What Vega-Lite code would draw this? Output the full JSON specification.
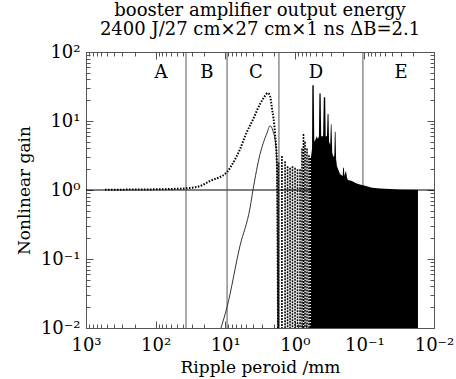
{
  "$schema": "https://vega.github.io/schema/vega-lite/v6.json",
  "width": 348,
  "height": 276,
  "autosize": {"type": "none"},
  "padding": {"left": 86, "top": 52, "right": 22, "bottom": 51},
  "background": "white",
  "config": {"view": {"stroke": null}, "font": "DejaVu Serif"},
  "title": {
    "text": ["booster amplifier output energy", "2400 J/27 cm×27 cm×1 ns ΔB=2.1"],
    "font": "DejaVu Serif",
    "fontSize": 18,
    "fontWeight": "normal",
    "color": "black",
    "anchor": "middle",
    "offset": 4,
    "lineHeight": 19
  },
  "layer": [
    {
      "data": {"values": [{"x": 1000, "y": 1}, {"x": 0.01, "y": 1}]},
      "mark": {"type": "line", "color": "black", "strokeWidth": 1, "clip": true},
      "encoding": {
        "x": {
          "field": "x", "type": "quantitative",
          "scale": {"type": "log", "domain": [0.01, 1000], "reverse": true, "nice": false},
          "axis": {
            "orient": "bottom",
            "values": [0.01,0.02,0.03,0.04,0.05,0.06,0.07,0.08,0.09,0.1,0.2,0.3,0.4,0.5,0.6,0.7,0.8,0.9,1,2,3,4,5,6,7,8,9,10,20,30,40,50,60,70,80,90,100,200,300,400,500,600,700,800,900,1000],
            "labelExpr": "datum.value==1000?'10³':datum.value==100?'10²':datum.value==10?'10¹':datum.value==1?'10⁰':datum.value==0.1?'10⁻¹':datum.value==0.01?'10⁻²':''",
            "labelFont": "DejaVu Serif", "labelFontSize": 18, "labelColor": "black",
            "labelPadding": 15, "labelOverlap": false, "labelFlush": false, "labelBound": false,
            "tickSize": {"condition": {"test": "datum.value==0.01||datum.value==0.1||datum.value==1||datum.value==10||datum.value==100||datum.value==1000", "value": -7}, "value": -4},
            "tickColor": "#555", "tickWidth": 1,
            "domainColor": "#555", "domainWidth": 1,
            "grid": false,
            "title": "Ripple peroid /mm",
            "titleFont": "DejaVu Serif", "titleFontSize": 17, "titleFontWeight": "normal", "titleColor": "black",
            "titlePadding": 2
          }
        },
        "y": {
          "field": "y", "type": "quantitative",
          "scale": {"type": "log", "domain": [0.01, 100], "nice": false},
          "axis": {
            "orient": "left",
            "values": [0.01,0.02,0.03,0.04,0.05,0.06,0.07,0.08,0.09,0.1,0.2,0.3,0.4,0.5,0.6,0.7,0.8,0.9,1,2,3,4,5,6,7,8,9,10,20,30,40,50,60,70,80,90,100],
            "labelExpr": "datum.value==100?'10²':datum.value==10?'10¹':datum.value==1?'10⁰':datum.value==0.1?'10⁻¹':datum.value==0.01?'10⁻²':''",
            "labelFont": "DejaVu Serif", "labelFontSize": 18, "labelColor": "black",
            "labelPadding": 13, "labelOverlap": false, "labelFlush": false, "labelBound": false,
            "tickSize": {"condition": {"test": "datum.value==0.01||datum.value==0.1||datum.value==1||datum.value==10||datum.value==100", "value": -7}, "value": -4},
            "tickColor": "#555", "tickWidth": 1,
            "domainColor": "#555", "domainWidth": 1,
            "grid": false,
            "title": "Nonlinear gain",
            "titleFont": "DejaVu Serif", "titleFontSize": 17, "titleFontWeight": "normal", "titleColor": "black",
            "titlePadding": 7
          }
        }
      }
    },
    {
      "data": {"values": [{"x": 36.6}, {"x": 9.4}, {"x": 1.69}, {"x": 0.105}]},
      "mark": {"type": "rule", "color": "#555", "strokeWidth": 1},
      "encoding": {
        "x": {
          "field": "x", "type": "quantitative",
          "scale": {"type": "log", "domain": [0.01, 1000], "reverse": true, "nice": false},
          "axis": {
            "orient": "top",
            "values": [0.01,0.02,0.03,0.04,0.05,0.06,0.07,0.08,0.09,0.1,0.2,0.3,0.4,0.5,0.6,0.7,0.8,0.9,1,2,3,4,5,6,7,8,9,10,20,30,40,50,60,70,80,90,100,200,300,400,500,600,700,800,900,1000],
            "labels": false,
            "tickSize": {"condition": {"test": "datum.value==0.01||datum.value==0.1||datum.value==1||datum.value==10||datum.value==100||datum.value==1000", "value": -7}, "value": -4},
            "tickColor": "#555", "tickWidth": 1,
            "domainColor": "#555", "domainWidth": 1,
            "grid": false, "title": null
          }
        },
        "y": {
          "datum": 0.01, "type": "quantitative",
          "scale": {"type": "log", "domain": [0.01, 100], "nice": false},
          "axis": {
            "orient": "right",
            "values": [0.01,0.02,0.03,0.04,0.05,0.06,0.07,0.08,0.09,0.1,0.2,0.3,0.4,0.5,0.6,0.7,0.8,0.9,1,2,3,4,5,6,7,8,9,10,20,30,40,50,60,70,80,90,100],
            "labels": false,
            "tickSize": {"condition": {"test": "datum.value==0.01||datum.value==0.1||datum.value==1||datum.value==10||datum.value==100", "value": -7}, "value": -4},
            "tickColor": "#555", "tickWidth": 1,
            "domainColor": "#555", "domainWidth": 1,
            "grid": false, "title": null
          }
        },
        "y2": {"datum": 100}
      }
    },
    {
      "data": {"values": [
        {"x": 0.585, "y": 3}, {"x": 0.565, "y": 4}, {"x": 0.56, "y": 33}, {"x": 0.535, "y": 33},
        {"x": 0.525, "y": 5}, {"x": 0.5, "y": 5.5}, {"x": 0.485, "y": 6}, {"x": 0.465, "y": 5.5},
        {"x": 0.45, "y": 6}, {"x": 0.443, "y": 25}, {"x": 0.425, "y": 25}, {"x": 0.418, "y": 6},
        {"x": 0.392, "y": 6}, {"x": 0.383, "y": 22}, {"x": 0.366, "y": 22}, {"x": 0.36, "y": 6},
        {"x": 0.345, "y": 6}, {"x": 0.338, "y": 12.6}, {"x": 0.328, "y": 12.6}, {"x": 0.322, "y": 5},
        {"x": 0.31, "y": 4.5}, {"x": 0.303, "y": 9}, {"x": 0.297, "y": 9}, {"x": 0.29, "y": 3.5},
        {"x": 0.28, "y": 3}, {"x": 0.27, "y": 3.2}, {"x": 0.266, "y": 7}, {"x": 0.26, "y": 7},
        {"x": 0.255, "y": 2.8}, {"x": 0.248, "y": 2.2},
        {"x": 0.224, "y": 1.7}, {"x": 0.205, "y": 1.6}, {"x": 0.202, "y": 2.1}, {"x": 0.197, "y": 2.1}, {"x": 0.194, "y": 1.6},
        {"x": 0.184, "y": 1.9}, {"x": 0.178, "y": 1.5}, {"x": 0.172, "y": 1.4}, {"x": 0.151, "y": 1.35},
        {"x": 0.132, "y": 1.25}, {"x": 0.116, "y": 1.2}, {"x": 0.098, "y": 1.15}, {"x": 0.0778, "y": 1.08},
        {"x": 0.0597, "y": 1.05}, {"x": 0.0429, "y": 1.03}, {"x": 0.0308, "y": 1.01}, {"x": 0.017, "y": 1.0}
      ]},
      "mark": {"type": "area", "color": "black", "clip": true},
      "encoding": {
        "x": {"field": "x", "type": "quantitative", "scale": {"type": "log", "domain": [0.01, 1000], "reverse": true, "nice": false}, "axis": null},
        "y": {"field": "y", "type": "quantitative", "scale": {"type": "log", "domain": [0.01, 100], "nice": false}, "axis": null},
        "y2": {"datum": 0.01}
      }
    },
    {
      "data": {"values": [
        {"x": 1.71, "y": 2.5}, {"x": 1.53, "y": 3.1}, {"x": 1.38, "y": 2.6}, {"x": 1.27, "y": 2.2},
        {"x": 1.17, "y": 2.1}, {"x": 1.08, "y": 2.2}, {"x": 0.993, "y": 2.1}, {"x": 0.914, "y": 2.0},
        {"x": 0.841, "y": 2.0}, {"x": 0.788, "y": 4.0}, {"x": 0.75, "y": 6.5}, {"x": 0.713, "y": 5.0},
        {"x": 0.668, "y": 4.0}, {"x": 0.625, "y": 3.2}, {"x": 0.6, "y": 2.9}
      ]},
      "mark": {"type": "rule", "color": "black", "strokeWidth": 1.6, "strokeDash": [2, 1], "clip": true},
      "encoding": {
        "x": {"field": "x", "type": "quantitative", "scale": {"type": "log", "domain": [0.01, 1000], "reverse": true, "nice": false}, "axis": null},
        "y": {"field": "y", "type": "quantitative", "scale": {"type": "log", "domain": [0.01, 100], "nice": false}, "axis": null},
        "y2": {"datum": 0.01}
      }
    },
    {
      "data": {"values": [
        {"x": 11.5, "y": 0.01}, {"x": 9.42, "y": 0.02}, {"x": 6.13, "y": 0.155}, {"x": 4.4, "y": 0.55},
        {"x": 3.99, "y": 1.0}, {"x": 3.16, "y": 3.3}, {"x": 2.51, "y": 6.7}, {"x": 2.27, "y": 8.5},
        {"x": 2.06, "y": 7.2}, {"x": 1.86, "y": 4.1}, {"x": 1.8, "y": 1.9}, {"x": 1.76, "y": 0.01}
      ]},
      "mark": {"type": "line", "color": "#333", "strokeWidth": 1, "interpolate": "monotone", "clip": true},
      "encoding": {
        "x": {"field": "x", "type": "quantitative", "scale": {"type": "log", "domain": [0.01, 1000], "reverse": true, "nice": false}, "axis": null},
        "y": {"field": "y", "type": "quantitative", "scale": {"type": "log", "domain": [0.01, 100], "nice": false}, "axis": null}
      }
    },
    {
      "data": {"values": [
        {"x": 533, "y": 1.01}, {"x": 300, "y": 1.012}, {"x": 120, "y": 1.02}, {"x": 60, "y": 1.035},
        {"x": 35.4, "y": 1.06}, {"x": 23, "y": 1.14}, {"x": 16.5, "y": 1.35}, {"x": 9.42, "y": 1.82},
        {"x": 7.73, "y": 2.46}, {"x": 6.13, "y": 3.9}, {"x": 5.02, "y": 6.5}, {"x": 3.99, "y": 10.5},
        {"x": 3.16, "y": 17.6}, {"x": 2.77, "y": 22}, {"x": 2.43, "y": 25.4}, {"x": 2.27, "y": 23},
        {"x": 2.13, "y": 15.4}, {"x": 1.92, "y": 6.5}, {"x": 1.8, "y": 2.1}, {"x": 1.74, "y": 0.01}
      ]},
      "mark": {"type": "line", "color": "black", "strokeWidth": 2, "strokeDash": [1.5, 1.5], "interpolate": "monotone", "clip": true},
      "encoding": {
        "x": {"field": "x", "type": "quantitative", "scale": {"type": "log", "domain": [0.01, 1000], "reverse": true, "nice": false}, "axis": null},
        "y": {"field": "y", "type": "quantitative", "scale": {"type": "log", "domain": [0.01, 100], "nice": false}, "axis": null}
      }
    },
    {
      "data": {"values": [
        {"x": 83.6, "y": 42, "t": "A"}, {"x": 18.3, "y": 42, "t": "B"}, {"x": 3.61, "y": 42, "t": "C"},
        {"x": 0.496, "y": 42, "t": "D"}, {"x": 0.0298, "y": 42, "t": "E"}
      ]},
      "mark": {"type": "text", "font": "DejaVu Serif", "fontSize": 18, "color": "black", "align": "center", "baseline": "alphabetic"},
      "encoding": {
        "x": {"field": "x", "type": "quantitative", "scale": {"type": "log", "domain": [0.01, 1000], "reverse": true, "nice": false}, "axis": null},
        "y": {"field": "y", "type": "quantitative", "scale": {"type": "log", "domain": [0.01, 100], "nice": false}, "axis": null},
        "text": {"field": "t"}
      }
    }
  ],
  "resolve": {"axis": {"x": "independent", "y": "independent"}}
}
